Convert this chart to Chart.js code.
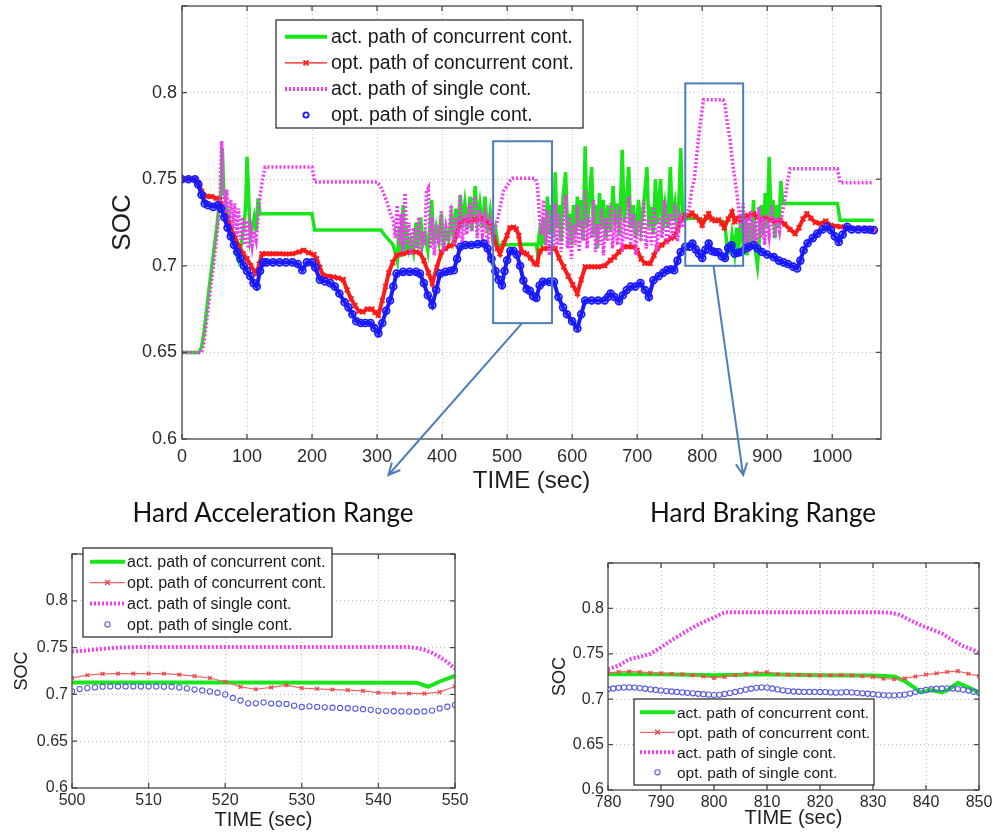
<!DOCTYPE html>
<html>
<head>
<meta charset="utf-8">
<title>SOC paths</title>
<script src="https://cdn.jsdelivr.net/npm/chart.js@4.4.0/dist/chart.umd.min.js"></script>
<style>
  body { margin: 0; background: #fff; }
  #page { position: relative; width: 993px; height: 832px; overflow: hidden; background: #fff; }
  canvas { position: absolute; }
  #mainChart { left: 0; top: 0; }
  #accelChart { left: 0; top: 540px; }
  #brakeChart { left: 540px; top: 540px; }
  .caption { position: absolute; font-family: Lato, 'Open Sans', sans-serif; font-size: 26px;
             font-variant-ligatures: none; font-feature-settings: "liga" 0;
             color: #111; white-space: nowrap; transform: translateX(-50%); line-height: 30px; }
</style>
</head>
<body>
<div id="page">
  <canvas id="mainChart" width="993" height="832"></canvas>
  <div class="caption" style="left:273px; top:497px;">Hard Acceleration Range</div>
  <div class="caption" style="left:763px; top:497px;">Hard Braking Range</div>
  <canvas id="accelChart" width="470" height="292"></canvas>
  <canvas id="brakeChart" width="453" height="292"></canvas>
</div>
<script>
// ---- data: [time (sec), SOC] ----
const seriesNames = [
  'act. path of concurrent cont.',
  'opt. path of concurrent cont.',
  'act. path of single cont.',
  'opt. path of single cont.'
];

// full drive cycle
const mainActConc = [
  [0,.650],[26,.650],[30,.653],[34,.662],[38,.675],[42,.688],[46,.700],[50,.712],[54,.724],[57,.735],[60,.742],[62,.768],[64,.745],
  [68,.736],[72,.728],[76,.720],[80,.713],[84,.706],[87,.703],[91,.712],[95,.722],[98,.735],[100,.763],[102,.745],[105,.716],
  [108,.722],[111,.728],[114,.720],[117,.739],[120,.730],[200,.730],[204,.7206],[306,.7206],[312,.7175],[318,.715],[324,.7125],
  [328,.708],[331,.703],[334,.722],[337,.705],[340,.735],[343,.708],[346,.718],[349,.710],[352,.715],[356,.708],[360,.725],
  [363,.710],[367,.728],[370,.712],[374,.718],[378,.709],[381,.722],[384,.738],[387,.712],[391,.722],[395,.714],[399,.730],
  [402,.712],[406,.720],[410,.715],[414,.728],[417,.718],[421,.733],[424,.719],[428,.741],[431,.722],[435,.736],[439,.721],
  [443,.740],[446,.720],[451,.746],[454,.726],[458,.736],[462,.722],[466,.740],[470,.719],[474,.731],[478,.716],[482,.722],
  [486,.712],[545,.7125],[546.5,.708],[548,.7138],[550,.7198],[553,.713],[556,.728],[559,.712],[562,.740],[565,.718],[568,.735],
  [571,.716],[574,.754],[577,.722],[580,.735],[583,.714],[586,.740],[590,.754],[593,.720],[596,.730],[599,.712],[602,.735],
  [605,.718],[608,.740],[611,.722],[614,.738],[617,.715],[620,.769],[623,.722],[626,.735],[630,.757],[633,.718],[636,.735],
  [639,.710],[642,.742],[645,.722],[648,.738],[652,.716],[655,.735],[659,.720],[663,.746],[666,.724],[670,.736],[673,.718],
  [677,.767],[680,.726],[684,.740],[687,.757],[690,.722],[694,.735],[698,.716],[702,.738],[706,.722],[710,.735],[715,.757],
  [718,.722],[722,.734],[725,.718],[728,.750],[731,.724],[736,.750],[739,.720],[743,.735],[747,.722],[751,.757],[754,.726],
  [758,.736],[762,.720],[765,.745],[767,.768],[770,.728],[774,.727],[780,.7275],[790,.7275],[800,.7265],[810,.7275],[820,.7265],
  [830,.726],[834,.725],[836,.720],[838,.712],[839,.7075],[841,.710],[843,.7075],[844,.710],[846,.718],[848,.713],[850,.7075],
  [853,.722],[856,.708],[860,.730],[863,.712],[866,.728],[869,.706],[872,.724],[875,.712],[879,.738],[882,.708],[885,.700],
  [888,.715],[891,.735],[894,.718],[897,.742],[900,.722],[903,.763],[906,.725],[909,.738],[912,.716],[915,.735],[918,.722],
  [921,.749],[924,.736],[1008,.736],[1012,.7263],[1064,.7263]
];
const mainOptConc = [
  [0,.750],[10,.750],[20,.750],[25,.748],[30,.743],[38,.740],[45,.740],[53,.739],[58,.738],[64,.733],[70,.727],[76,.721],[82,.716],
  [88,.711],[94,.707],[100,.704],[106,.700],[111,.697],[115,.6955],[119,.701],[123,.707],[130,.707],[140,.707],[150,.707],
  [160,.7068],[170,.707],[180,.708],[187,.709],[195,.7075],[203,.7065],[207,.704],[212,.699],[217,.6945],[225,.694],[233,.6935],
  [240,.693],[248,.692],[254,.686],[260,.681],[266,.677],[272,.6738],[278,.6734],[285,.675],[292,.675],[297,.673],[302,.6715],
  [308,.680],[313,.688],[318,.696],[324,.702],[330,.706],[340,.707],[350,.708],[360,.708],[366,.7075],[372,.703],[379,.696],
  [385,.6898],[392,.699],[399,.708],[405,.710],[412,.7115],[418,.7125],[423,.719],[428,.7253],[436,.726],[445,.7265],[455,.727],
  [464,.7273],[470,.725],[474,.724],[480,.716],[485,.710],[489,.707],[495,.713],[500,.7175],[504,.722],[510,.7222],[514,.7212],
  [518,.7175],[522,.708],[526,.7075],[530,.7068],[536,.7045],[542,.7014],[546,.7008],[550,.7085],[556,.710],[563,.710],[570,.710],
  [574,.710],[580,.7045],[587,.6994],[594,.694],[601,.689],[608,.684],[614,.692],[620,.6994],[630,.6994],[640,.6994],[650,.700],
  [659,.7032],[665,.705],[672,.708],[679,.711],[686,.711],[693,.711],[700,.709],[706,.704],[712,.7015],[720,.7013],[726,.706],
  [731,.710],[738,.712],[745,.714],[752,.716],[757,.7167],[762,.721],[767,.7263],[774,.729],[780,.729],[784,.7305],[790,.7285],
  [796,.7265],[800,.7235],[806,.728],[810,.730],[815,.7268],[820,.726],[825,.7265],[830,.7245],[834,.722],[840,.727],[846,.731],
  [850,.7255],[855,.7275],[859,.7263],[865,.729],[870,.7285],[875,.7295],[879,.730],[885,.728],[891,.7265],[897,.7275],[905,.7263],
  [912,.7258],[920,.7263],[927,.724],[935,.721],[943,.7186],[949,.722],[955,.727],[961,.730],[967,.7275],[974,.725],[982,.7244],
  [990,.7258],[998,.7232],[1006,.7228],[1013,.7225],[1025,.7218],[1040,.7215],[1052,.7212],[1064,.721]
];
const mainActSingle = [
  [0,.650],[30,.650],[33,.654],[37,.665],[41,.678],[45,.690],[49,.703],[53,.716],[56,.728],[59,.742],[61,.772],[63,.745],[66,.735],
  [69,.744],[72,.726],[75,.738],[78,.722],[81,.736],[84,.718],[87,.733],[90,.715],[93,.728],[96,.712],[99,.726],[102,.710],
  [105,.722],[108,.712],[111,.720],[114,.715],[117,.728],[120,.740],[124,.750],[128,.757],[200,.757],[204,.7484],[300,.7484],
  [305,.746],[310,.742],[315,.737],[320,.731],[325,.726],[328,.716],[331,.735],[334,.712],[337,.730],[340,.708],[343,.742],
  [346,.712],[349,.725],[352,.706],[356,.722],[360,.710],[364,.728],[367,.708],[370,.720],[373,.712],[376,.743],[379,.745],
  [382,.710],[385,.728],[388,.706],[392,.724],[395,.712],[399,.732],[402,.708],[406,.722],[410,.714],[414,.735],[418,.712],
  [422,.728],[425,.716],[428,.741],[431,.713],[435,.730],[438,.718],[442,.736],[445,.720],[448,.739],[451,.739],[454,.716],
  [458,.732],[462,.718],[466,.728],[470,.712],[474,.725],[478,.716],[482,.722],[486,.728],[490,.735],[495,.744],[500,.7459],
  [504,.7488],[508,.7505],[543,.7505],[546,.7475],[548,.740],[550,.7275],[553,.718],[556,.738],[559,.712],[562,.732],[565,.706],
  [568,.728],[571,.710],[574,.736],[577,.712],[580,.730],[583,.708],[586,.722],[590,.741],[593,.710],[596,.728],[599,.704],
  [602,.724],[605,.712],[608,.735],[611,.708],[614,.726],[617,.714],[620,.744],[623,.710],[626,.728],[630,.716],[633,.738],
  [636,.708],[639,.724],[642,.712],[645,.733],[648,.706],[652,.728],[655,.714],[659,.736],[662,.710],[666,.726],[670,.712],
  [673,.734],[677,.708],[680,.728],[684,.715],[687,.740],[690,.712],[694,.730],[698,.706],[702,.726],[706,.714],[710,.738],
  [714,.710],[718,.728],[722,.712],[726,.734],[730,.708],[734,.728],[738,.716],[742,.738],[746,.712],[750,.730],[754,.716],
  [758,.736],[762,.714],[766,.728],[770,.722],[774,.728],[780,.733],[784,.744],[788,.750],[792,.765],[796,.779],[800,.790],
  [802,.7958],[832,.7958],[835,.793],[839,.7815],[843,.7725],[847,.7585],[850,.751],[854,.740],[857,.730],[860,.720],[863,.736],
  [866,.712],[869,.728],[872,.708],[875,.732],[878,.714],[881,.726],[884,.710],[887,.734],[890,.716],[893,.728],[896,.712],
  [899,.730],[903,.718],[907,.735],[911,.716],[915,.728],[919,.720],[923,.730],[927,.738],[931,.748],[935,.756],[1008,.756],
  [1012,.748],[1062,.748]
];
const mainOptSingle = [
  [0,.750],[10,.750],[20,.750],[25,.747],[30,.741],[35,.736],[40,.735],[48,.734],[55,.735],[60,.733],[65,.728],[70,.722],[75,.717],
  [80,.712],[85,.708],[90,.704],[95,.700],[100,.697],[105,.694],[110,.690],[115,.688],[120,.697],[125,.702],[130,.702],[140,.702],
  [150,.702],[160,.702],[170,.702],[178,.701],[185,.6975],[192,.702],[200,.702],[205,.699],[212,.692],[220,.691],[228,.690],
  [235,.688],[242,.684],[250,.679],[256,.676],[262,.672],[268,.668],[275,.667],[282,.667],[290,.667],[296,.664],[302,.661],
  [308,.667],[314,.674],[320,.680],[325,.688],[330,.6955],[340,.6965],[350,.6965],[360,.6965],[366,.6955],[372,.690],[378,.683],
  [385,.6773],[391,.686],[397,.6955],[405,.6965],[412,.697],[418,.6975],[423,.704],[428,.711],[436,.712],[445,.712],[455,.7125],
  [464,.7129],[470,.710],[476,.704],[482,.697],[487,.692],[492,.6888],[496,.697],[500,.7032],[505,.7085],[510,.7085],[515,.7064],
  [520,.700],[525,.6915],[530,.6866],[535,.6855],[540,.6825],[545,.6815],[550,.6886],[555,.6907],[565,.6907],[572,.6907],
  [579,.682],[586,.676],[592,.672],[600,.668],[608,.6638],[614,.672],[620,.680],[630,.680],[640,.680],[650,.680],[655,.682],
  [659,.684],[665,.682],[672,.6795],[678,.683],[684,.686],[690,.688],[697,.688],[705,.690],[712,.686],[718,.682],[725,.6917],
  [733,.694],[740,.696],[746,.6975],[752,.698],[757,.6975],[762,.703],[767,.708],[774,.711],[780,.711],[785,.7128],[790,.7095],
  [795,.707],[800,.7045],[805,.7092],[810,.7128],[815,.7085],[820,.708],[825,.7078],[830,.7055],[835,.7045],[840,.7102],
  [845,.7118],[850,.707],[855,.7075],[860,.708],[866,.710],[872,.711],[879,.7119],[885,.710],[892,.708],[900,.7065],[910,.705],
  [918,.703],[925,.702],[932,.701],[940,.6995],[946,.6985],[951,.703],[956,.709],[962,.713],[970,.716],[977,.7186],[985,.721],
  [992,.7225],[998,.7205],[1004,.717],[1010,.7138],[1016,.718],[1023,.7225],[1030,.721],[1040,.721],[1050,.721],[1058,.7208],
  [1064,.7206]
];

// hard acceleration range, 500-550 s
const accelActConc = [[500,.7128],[520,.7128],[545,.7125],[546.5,.7082],[548,.7138],[550,.7198]];
const accelOptConc = [
  [500,.7175],[502,.7205],[504,.7220],[506,.7222],[508,.7222],[510,.7222],[512,.7221],[514,.7212],[516,.7195],[518,.7175],
  [520,.7135],[522,.7080],[524,.7055],[526,.7075],[528,.7098],[530,.7068],[532,.7060],[534,.7052],[536,.7045],[538,.7038],
  [540,.7018],[542,.7014],[544,.7010],[546,.7008],[548,.7025],[550,.7085]
];
const accelActSingle = [
  [500,.7459],[502,.7470],[504,.7488],[506,.7500],[508,.7505],[510,.7507],[520,.7507],[530,.7507],[540,.7507],[544,.7505],
  [545,.7495],[546,.7475],[547,.7445],[548,.7400],[549,.7345],[550,.7275]
];
const accelOptSingle = [
  [500,.7032],[501,.7057],[502,.7068],[503,.7075],[504,.7082],[505,.7085],[506,.7085],[507,.7085],[508,.7085],[509,.7085],
  [510,.7085],[511,.7085],[512,.7083],[513,.7082],[514,.7075],[515,.7064],[516,.7052],[517,.7042],[518,.7032],[519,.7018],
  [520,.7000],[521,.6962],[522,.6935],[523,.6905],[524,.6905],[525,.6915],[526,.6902],[527,.6900],[528,.6898],[529,.6880],
  [530,.6866],[531,.6873],[532,.6866],[533,.6862],[534,.6858],[535,.6855],[536,.6852],[537,.6848],[538,.6842],[539,.6835],
  [540,.6825],[541,.6822],[542,.6820],[543,.6818],[544,.6816],[545,.6815],[546,.6818],[547,.6827],[548,.6850],[549,.6868],
  [550,.6886]
];

// hard braking range, 780-850 s
const brakeActConc = [
  [780,.7275],[790,.7275],[800,.7265],[810,.7275],[820,.7265],[830,.7260],[834,.7250],[836,.7200],[838,.7120],[839,.7075],
  [841,.7100],[843,.7075],[844,.7100],[846,.7180],[848,.7130],[850,.7075]
];
const brakeOptConc = [
  [780,.7290],[782,.7300],[784,.7305],[786,.7300],[788,.7290],[790,.7285],[792,.7280],[794,.7275],[796,.7265],[798,.7250],
  [800,.7235],[802,.7245],[804,.7265],[806,.7280],[808,.7290],[810,.7300],[812,.7275],[814,.7270],[816,.7268],[818,.7262],
  [820,.7260],[822,.7262],[824,.7265],[826,.7262],[828,.7255],[830,.7245],[832,.7225],[834,.7220],[836,.7230],[838,.7250],
  [840,.7270],[842,.7285],[844,.7300],[846,.7310],[848,.7280],[850,.7255]
];
const brakeActSingle = [
  [780,.7330],[782,.7370],[784,.7440],[786,.7465],[788,.7500],[790,.7570],[792,.7650],[794,.7720],[796,.7790],[798,.7850],
  [800,.7900],[802,.7958],[810,.7958],[820,.7958],[830,.7958],[833,.7955],[835,.7930],[837,.7870],[839,.7815],[841,.7770],
  [843,.7725],[845,.7650],[847,.7585],[849,.7540],[850,.7510]
];
const brakeOptSingle = [
  [780,.7110],[781,.7118],[782,.7125],[783,.7130],[784,.7130],[785,.7128],[786,.7122],[787,.7115],[788,.7108],[789,.7102],
  [790,.7095],[791,.7090],[792,.7085],[793,.7080],[794,.7075],[795,.7070],[796,.7065],[797,.7060],[798,.7055],[799,.7050],
  [800,.7045],[801,.7048],[802,.7058],[803,.7068],[804,.7080],[805,.7092],[806,.7105],[807,.7115],[808,.7125],[809,.7130],
  [810,.7128],[811,.7118],[812,.7108],[813,.7098],[814,.7090],[815,.7085],[816,.7082],[817,.7080],[818,.7080],[819,.7080],
  [820,.7080],[821,.7078],[822,.7075],[823,.7072],[824,.7075],[825,.7078],[826,.7075],[827,.7070],[828,.7065],[829,.7060],
  [830,.7055],[831,.7050],[832,.7045],[833,.7042],[834,.7042],[835,.7045],[836,.7050],[837,.7062],[838,.7078],[839,.7092],
  [840,.7102],[841,.7110],[842,.7115],[843,.7118],[844,.7120],[845,.7118],[846,.7112],[847,.7105],[848,.7095],[849,.7082],
  [850,.7070]
];

// zoom boxes [t0, t1, soc0, soc1] and arrows [t0, soc0, t1, soc1] on the main plot
const zoomBoxes = [[478.5, 569, 0.6669, 0.7719], [774, 863, 0.700, 0.8053]];
const zoomArrows = [[523, 0.6669, 317.4, 0.5792], [817.4, 0.700, 863, 0.5792]];

const socTicks = { min: 0.6, max: 0.85, step: 0.05 };

// ---- helpers ----
const FONT = "'Liberation Sans', Arial, sans-serif";
const toXY = pairs => pairs.map(p => ({ x: p[0], y: p[1] }));

function drawMarker(ctx, style, x, y, r) {
  ctx.beginPath();
  if (style === 'crossRot') {
    ctx.moveTo(x - r, y - r); ctx.lineTo(x + r, y + r);
    ctx.moveTo(x - r, y + r); ctx.lineTo(x + r, y - r);
  } else {
    ctx.arc(x, y, r, 0, Math.PI * 2);
  }
  ctx.stroke();
}

// MATLAB style box with inward ticks
const frameBox = {
  id: 'frameBox',
  afterDatasetsDraw(chart) {
    const { ctx, chartArea: a, scales } = chart;
    ctx.save();
    ctx.strokeStyle = '#4a4a4a';
    ctx.lineWidth = 1.3;
    ctx.strokeRect(a.left, a.top, a.right - a.left, a.bottom - a.top);
    ctx.beginPath();
    scales.x.ticks.forEach(t => {
      const px = scales.x.getPixelForValue(t.value);
      ctx.moveTo(px, a.bottom); ctx.lineTo(px, a.bottom - 5);
      ctx.moveTo(px, a.top); ctx.lineTo(px, a.top + 5);
    });
    scales.y.ticks.forEach(t => {
      const py = scales.y.getPixelForValue(t.value);
      ctx.moveTo(a.left, py); ctx.lineTo(a.left + 5, py);
      ctx.moveTo(a.right, py); ctx.lineTo(a.right - 5, py);
    });
    ctx.stroke();
    ctx.restore();
  }
};

// legend box drawn inside the figure
const boxLegend = {
  id: 'boxLegend',
  afterDraw(chart, args, o) {
    if (!o || !o.w) return;
    const ctx = chart.ctx;
    ctx.save();
    ctx.fillStyle = '#fff';
    ctx.fillRect(o.x, o.y, o.w, o.h);
    ctx.strokeStyle = '#222';
    ctx.lineWidth = 1.2;
    ctx.strokeRect(o.x, o.y, o.w, o.h);
    ctx.font = o.font + 'px ' + FONT;
    ctx.textBaseline = 'middle';
    chart.data.datasets.forEach((ds, i) => {
      const y = o.row0 + i * o.step;
      if (ds.legendLine) {
        ctx.save();
        ctx.strokeStyle = ds.borderColor;
        ctx.lineWidth = ds.legendLine;
        ctx.setLineDash(ds.borderDash || []);
        ctx.beginPath(); ctx.moveTo(o.s0, y); ctx.lineTo(o.s1, y); ctx.stroke();
        ctx.restore();
      }
      if (ds.pointRadius > 0) {
        ctx.save();
        ctx.strokeStyle = ds.pointBorderColor;
        ctx.lineWidth = ds.pointBorderWidth;
        drawMarker(ctx, ds.pointStyle, (o.s0 + o.s1) / 2, y, ds.legendPoint || ds.pointRadius);
        ctx.restore();
      }
      ctx.fillStyle = '#1a1a1a';
      ctx.fillText(ds.label, o.tx, y + 1);
    });
    ctx.restore();
  }
};

// blue zoom rectangles and arrows
const zoomMarks = {
  id: 'zoomMarks',
  afterDraw(chart, args, o) {
    if (!o || !o.boxes) return;
    const { ctx, scales: { x, y } } = chart;
    ctx.save();
    ctx.strokeStyle = '#4f7db8';
    ctx.lineWidth = 2;
    o.boxes.forEach(b => {
      const x0 = x.getPixelForValue(b[0]), x1 = x.getPixelForValue(b[1]);
      const y0 = y.getPixelForValue(b[3]), y1 = y.getPixelForValue(b[2]);
      ctx.strokeRect(x0, y0, x1 - x0, y1 - y0);
    });
    o.arrows.forEach(ar => {
      const xa = x.getPixelForValue(ar[0]), ya = y.getPixelForValue(ar[1]);
      const xb = x.getPixelForValue(ar[2]), yb = y.getPixelForValue(ar[3]);
      const ang = Math.atan2(yb - ya, xb - xa);
      ctx.beginPath();
      ctx.moveTo(xa, ya); ctx.lineTo(xb, yb);
      ctx.moveTo(xb - 13 * Math.cos(ang - 0.45), yb - 13 * Math.sin(ang - 0.45));
      ctx.lineTo(xb, yb);
      ctx.lineTo(xb - 13 * Math.cos(ang + 0.45), yb - 13 * Math.sin(ang + 0.45));
      ctx.stroke();
    });
    ctx.restore();
  }
};

function makeDatasets(data, big) {
  return [
    {
      label: seriesNames[0], data: toXY(data[0]),
      borderColor: '#19e619', borderWidth: big ? 3.5 : 4, pointRadius: 0,
      legendLine: 4, order: 3
    },
    {
      label: seriesNames[1], data: toXY(data[1]),
      borderColor: big ? '#ff1a1a' : '#f26464', borderWidth: big ? 4 : 1.2,
      pointStyle: 'crossRot', pointRadius: big ? 3.4 : 2.6, pointBorderWidth: big ? 1.8 : 1.4,
      pointBorderColor: big ? '#ff1a1a' : '#e84a4a', pointBackgroundColor: 'rgba(0,0,0,0)',
      legendLine: 1.3, legendPoint: 2.5, order: 2
    },
    {
      label: seriesNames[2], data: toXY(data[2]),
      borderColor: '#f03cf0', borderWidth: big ? 3.5 : 4, borderDash: [2, 2], pointRadius: 0,
      legendLine: 4, order: 1
    },
    {
      label: seriesNames[3], data: toXY(data[3]),
      borderColor: big ? '#1a1aff' : '#5a5ae6', borderWidth: big ? 4 : 0, showLine: big,
      pointStyle: 'circle', pointRadius: big ? 3.4 : 2.6, pointBorderWidth: big ? 1.8 : 1.1,
      pointBorderColor: big ? '#1a1aff' : '#5a5ae6', pointBackgroundColor: 'rgba(0,0,0,0)',
      legendLine: 0, legendPoint: 2.6, order: 0
    }
  ];
}

function makeOptions(c) {
  return {
    responsive: false,
    animation: false,
    layout: { padding: c.padding },
    scales: {
      x: {
        type: 'linear', min: c.xMin, max: c.xMax,
        afterFit: s => { s.height = c.xHeight; s.paddingLeft = 0; s.paddingRight = 0; },
        grid: { color: '#bdbdbd', lineWidth: 1, drawTicks: false },
        border: { display: false, dash: [1, 3] },
        ticks: {
          stepSize: c.xStep, includeBounds: false, autoSkip: false, maxRotation: 0,
          padding: c.xTickPad, color: '#2b2b2b', font: { family: FONT, size: c.tickSize },
          callback: v => String(v)
        },
        title: {
          display: true, text: 'TIME (sec)', color: '#1e1e1e',
          font: { family: FONT, size: c.xTitleSize }, padding: { top: 0, bottom: c.xTitlePad }
        }
      },
      y: {
        min: socTicks.min, max: socTicks.max,
        afterFit: s => { s.width = c.yWidth; s.paddingTop = 0; s.paddingBottom = 0; },
        grid: { color: '#bdbdbd', lineWidth: 1, drawTicks: false },
        border: { display: false, dash: [1, 3] },
        ticks: {
          stepSize: socTicks.step, padding: c.yTickPad, color: '#2b2b2b',
          font: { family: FONT, size: c.tickSize },
          callback: v => (v > socTicks.max - 0.01 ? '' : String(+v.toFixed(2)))
        },
        title: {
          display: true, text: 'SOC', color: '#1e1e1e',
          font: { family: FONT, size: c.yTitleSize }, padding: { top: c.yTitlePad, bottom: 0 }
        }
      }
    },
    plugins: {
      legend: { display: false },
      tooltip: { enabled: false },
      boxLegend: c.legend,
      zoomMarks: c.marks || {}
    }
  };
}

new Chart(document.getElementById('mainChart'), {
  type: 'line',
  data: { datasets: makeDatasets([mainActConc, mainOptConc, mainActSingle, mainOptSingle], true) },
  options: makeOptions({
    padding: { left: 100, top: 6, right: 112, bottom: 336 },
    xMin: 0, xMax: 1075, xStep: 100, xHeight: 57, yWidth: 82,
    tickSize: 18, xTickPad: 7, yTickPad: 5,
    xTitleSize: 24, xTitlePad: 0, yTitleSize: 26, yTitlePad: 7,
    legend: { x: 276, y: 20, w: 307, h: 108, row0: 36.7, step: 26.1, s0: 285, s1: 327, tx: 331, font: 19.5 },
    marks: { boxes: zoomBoxes, arrows: zoomArrows }
  }),
  plugins: [frameBox, zoomMarks, boxLegend]
});

new Chart(document.getElementById('accelChart'), {
  type: 'line',
  data: { datasets: makeDatasets([accelActConc, accelOptConc, accelActSingle, accelOptSingle], false) },
  options: makeOptions({
    padding: { left: 0, top: 14, right: 15, bottom: 0 },
    xMin: 500, xMax: 550, xStep: 10, xHeight: 44, yWidth: 72,
    tickSize: 16, xTickPad: 3, yTickPad: 4,
    xTitleSize: 20, xTitlePad: 0, yTitleSize: 18, yTitlePad: 11,
    legend: { x: 83, y: 8, w: 249, h: 89, row0: 21.7, step: 20.9, s0: 90, s1: 125, tx: 127, font: 16 }
  }),
  plugins: [frameBox, boxLegend]
});

new Chart(document.getElementById('brakeChart'), {
  type: 'line',
  data: { datasets: makeDatasets([brakeActConc, brakeOptConc, brakeActSingle, brakeOptSingle], false) },
  options: makeOptions({
    padding: { left: 0, top: 23, right: 14, bottom: 0 },
    xMin: 780, xMax: 850, xStep: 10, xHeight: 42, yWidth: 68,
    tickSize: 16, xTickPad: 3, yTickPad: 4,
    xTitleSize: 20, xTitlePad: 2, yTitleSize: 18, yTitlePad: 9,
    legend: { x: 94, y: 159, w: 240, h: 86, row0: 172.3, step: 20, s0: 100, s1: 135, tx: 137, font: 15.5 }
  }),
  plugins: [frameBox, boxLegend]
});
</script>
</body>
</html>
